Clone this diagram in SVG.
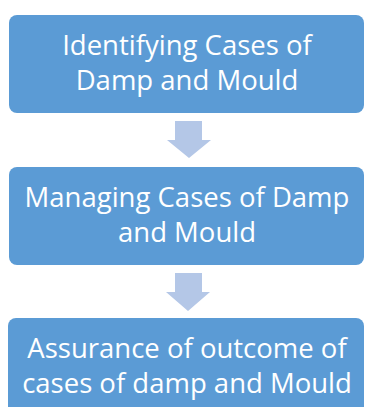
<svg xmlns="http://www.w3.org/2000/svg" width="365" height="407" viewBox="0 0 365 407">
<style>
.box{fill:#5B9BD5;}
.arr{fill:#B4C7E7;}
.t{fill:#FFFFFF;font-family:"Open Sans","Noto Sans",sans-serif;font-size:27.5px;text-anchor:middle;}
</style>
<rect width="365" height="407" fill="#FFFFFF"/>
<g id="connectors">
<polygon class="arr" points="175,121 202,121 202,140 211,140 189,158 167,140 175,140"/>
<polygon class="arr" points="175,273 202,273 202,292 210,292 188,311 166,292 175,292"/>
</g>
<g id="node1">
<rect class="box" x="9" y="15" width="355" height="98" rx="8"/>
<text class="t" x="187" y="55">Identifying Cases of</text>
<text class="t" x="187" y="90">Damp and Mould</text>
</g>
<g id="node2">
<rect class="box" x="9" y="167" width="355" height="98" rx="8"/>
<text class="t" x="187" y="207">Managing Cases of Damp</text>
<text class="t" x="187" y="242">and Mould</text>
</g>
<g id="node3">
<rect class="box" x="8" y="318" width="356" height="98" rx="8"/>
<text class="t" x="187" y="358">Assurance of outcome of</text>
<text class="t" x="187" y="393">cases of damp and Mould</text>
</g>
</svg>
